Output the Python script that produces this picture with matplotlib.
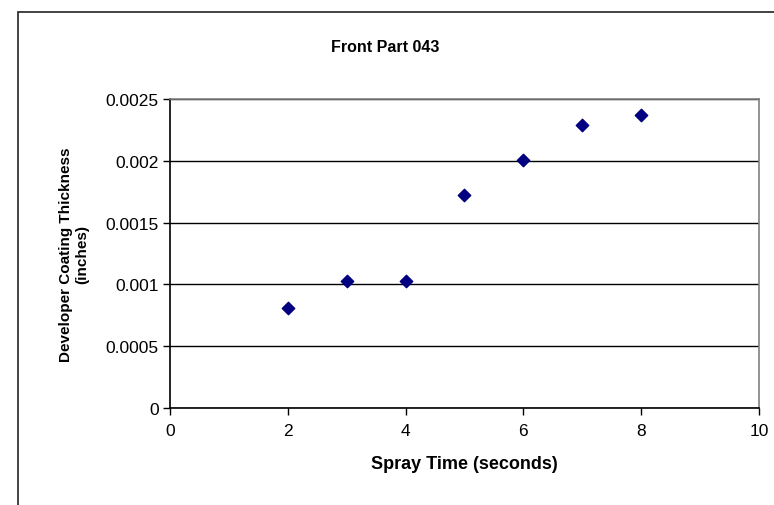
import matplotlib.pyplot as plt
from matplotlib.patches import Rectangle

plt.rcParams['font.family'] = ['Liberation Sans', 'DejaVu Sans']

# Data
spray_time = [2, 3, 4, 5, 6, 7, 8]
thickness = [0.00081, 0.00103, 0.00103, 0.00172, 0.00201, 0.00229, 0.00237]
x_ticks = [0, 2, 4, 6, 8, 10]
y_ticks = [0, 0.0005, 0.001, 0.0015, 0.002, 0.0025]
y_tick_labels = ['0', '0.0005', '0.001', '0.0015', '0.002', '0.0025']

fig = plt.figure(figsize=(7.74, 5.06), dpi=100)
ax = fig.add_axes([0.2196, 0.1917, 0.7610, 0.6107])

# outer chart frame (runs off the right and bottom edges)
fig.patches.append(Rectangle((18 / 774, -0.05), 1.0, 1 - 13 / 506 + 0.05,
                             transform=fig.transFigure, fill=False,
                             edgecolor='#222222', linewidth=1.2))

ax.scatter(spray_time, thickness, marker='D', s=40, color='#000080', zorder=3)

ax.set_xlim(0, 10)
ax.set_ylim(0, 0.0025)
ax.set_xticks(x_ticks)
ax.set_yticks(y_ticks)
ax.set_yticklabels(y_tick_labels)
ax.tick_params(axis='both', direction='out', length=5, width=1, labelsize=12.5,
               color='black')
ax.tick_params(axis='x', pad=6)
ax.tick_params(axis='y', pad=3)

ax.grid(axis='y', color='black', linewidth=1)
ax.set_axisbelow(True)

for side in ['left', 'bottom']:
    ax.spines[side].set_color('black')
    ax.spines[side].set_linewidth(1.2)
for side in ['top', 'right']:
    ax.spines[side].set_color('#808080')
    ax.spines[side].set_linewidth(1.2)

fig.text(385 / 774, 1 - 47 / 506, 'Front Part 043', fontsize=11.5,
         fontweight='bold', ha='center', va='center')
ax.set_xlabel('Spray Time (seconds)', fontsize=13, fontweight='bold', labelpad=12)
ax.set_ylabel('Developer Coating Thickness\n(inches)', fontsize=11,
              fontweight='bold', labelpad=12)

fig.savefig('out.png', dpi=100)
